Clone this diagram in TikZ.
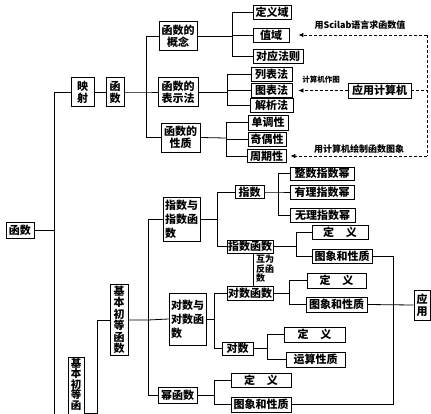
\documentclass[tikz,border=0pt]{standalone}
\usepackage{fontspec}
\setmainfont{Noto Sans CJK SC}
\usetikzlibrary{arrows.meta}
\begin{document}
\begin{tikzpicture}[x=1pt,y=-1pt,
  bx/.style={draw, line width=0.9pt, inner sep=0pt, font=\fontsize{11}{12}\selectfont\bfseries, align=center},
  tall/.style={font=\fontsize{11}{14}\selectfont\bfseries, align=left},
  vert/.style={font=\fontsize{11}{11.5}\selectfont\bfseries},
  ln/.style={line width=0.8pt},
  dsh/.style={line width=0.8pt, dash pattern=on 3pt off 2pt},
  lbl/.style={inner sep=0pt, font=\fontsize{9}{9}\selectfont\bfseries},
  tip/.style={-{Latex[length=5pt,width=4.5pt]}}]
\useasboundingbox (0,0) rectangle (431,413);
\clip (0,0) rectangle (431,413);
\fill[white] (0,0) rectangle (431,413);
% nodes
\node[bx, minimum width=28, minimum height=16] (hanshu) at (20,230) {函数};
\node[bx, minimum width=23, minimum height=29] (yingshe) at (82.5,92) {映\\射};
\node[bx, minimum width=18, minimum height=29] (hs2) at (115,92) {函\\数};
\node[bx, minimum width=38, minimum height=29] (concept) at (178,36) {函数的\\概念};
\node[bx, minimum width=40, minimum height=29] (biaoshi) at (178,92) {函数的\\表示法};
\node[bx, minimum width=39, minimum height=29] (xingzhi) at (180.5,137.5) {函数的\\性质};
\node[bx, minimum width=38, minimum height=14] (dingyiyu) at (272,12) {定义域};
\node[bx, minimum width=36, minimum height=14] (zhiyu) at (271,35) {值域};
\node[bx, minimum width=50, minimum height=14] (duiying) at (278,56) {对应法则};
\node[bx, minimum width=41, minimum height=14] (liebiao) at (271.5,74.5) {列表法};
\node[bx, minimum width=41, minimum height=14] (tubiao) at (271.5,90.5) {图表法};
\node[bx, minimum width=43, minimum height=14] (jiexi) at (271.5,105.5) {解析法};
\node[bx, minimum width=40, minimum height=15] (dandiao) at (268,122.5) {单调性};
\node[bx, minimum width=38, minimum height=14] (jiou) at (267,139.5) {奇偶性};
\node[bx, minimum width=39, minimum height=13] (zhouqi) at (266.5,156) {周期性};
\node[bx, minimum width=63, minimum height=15] (yyjsj) at (379.5,90.5) {应用计算机};
\node[bx, tall, minimum width=37, minimum height=44] (zsyzshs) at (181.5,219) {指数与\\指数函\\数};
\node[bx, minimum width=29, minimum height=13] (zhishu) at (249.5,192) {指数};
\node[bx, minimum width=46, minimum height=13] (zhishuhs) at (250,246.5) {指数函数};
\node[bx, minimum width=64, minimum height=13] (zhengshu) at (322,173.5) {整数指数幂};
\node[bx, minimum width=64, minimum height=14] (youli) at (322,192) {有理指数幂};
\node[bx, minimum width=65, minimum height=14] (wuli) at (322.5,215) {无理指数幂};
\node[bx, minimum width=56, minimum height=14] (dingyi1) at (340,232) {定\hspace{12pt}义};
\node[bx, minimum width=60, minimum height=14] (txxz1) at (342,256) {图象和性质};
\node[bx, minimum width=46, minimum height=14] (duishuhs) at (250,293) {对数函数};
\node[bx, minimum width=59, minimum height=15] (dingyi2) at (336.5,280.5) {定\hspace{12pt}义};
\node[bx, minimum width=61, minimum height=15] (txxz2) at (336.5,304.5) {图象和性质};
\node[bx, minimum width=16, minimum height=30] (yingyong) at (422,305) {应\\用};
\node[bx, tall, minimum width=37, minimum height=52] (dsydshs) at (187.5,319) {对数与\\对数函\\数};
\node[bx, minimum width=31, minimum height=13] (duishu) at (237.5,348.5) {对数};
\node[bx, minimum width=61, minimum height=15] (dingyi3) at (314.5,334.5) {定\hspace{12pt}义};
\node[bx, minimum width=59, minimum height=15] (yunsuan) at (315.5,359.5) {运算性质};
\node[bx, vert, minimum width=18, minimum height=71] (jbcd) at (119,320) {基\\本\\初\\等\\函\\数};
\node[bx, minimum width=39, minimum height=16] (mihs) at (177.5,395) {幂函数};
\node[bx, minimum width=60, minimum height=14] (dingyi4) at (261,380) {定\hspace{12pt}义};
\node[bx, minimum width=60, minimum height=15] (txxz3) at (261,404.5) {图象和性质};
\node[draw, line width=0.9pt, inner sep=0pt, minimum width=16, minimum height=80, anchor=north] (jbcd2) at (76,357) {};
\node[inner sep=0pt, anchor=north, align=center, font=\fontsize{10.5}{10.6}\selectfont\bfseries] (jbcd2t) at ([yshift=-1pt]jbcd2.north) {基\\本\\初\\等\\函};
% labels
\node[lbl] (l1) at (360,25) {用Scilab语言求函数值};
\node[lbl, font=\fontsize{7.5}{8}\selectfont\bfseries] (l2) at (321,80) {计算机作图};
\node[lbl] (l3) at (359,149) {用计算机绘制函数图象};
\node[lbl, font=\fontsize{9}{9.5}\selectfont\bfseries, align=left, anchor=north west] (l4) at (256,255) {互为\\反函\\数};
% coordinates
\coordinate (tr) at (54,92);
\coordinate (trb) at (54,420);
\coordinate (t1) at (146,92);
\coordinate (b1) at (232,36);
\coordinate (b2) at (227,90.5);
\coordinate (b3) at (226,138);
\coordinate (t2) at (148,320);
\coordinate (t3) at (97,320);
\coordinate (b4) at (217,219);
\coordinate (b5) at (278,192);
\coordinate (b6) at (296,246.5);
\coordinate (b7) at (289,293);
\coordinate (b8) at (214,319);
\coordinate (b9) at (267,348.5);
\coordinate (b10) at (214,395);
\coordinate (r1) at (393,256);
\coordinate (dt) at (427,35);
\coordinate (db) at (427,156);
% connectors
\draw[ln] (yingshe.west) -- (tr) -- (trb);
\draw[ln] (hanshu.east) -- (hanshu.east -| tr);
\draw[ln] (yingshe.east) -- (hs2.west);
\draw[ln] (hs2.east) -- (t1) -- (biaoshi.west);
\draw[ln] (t1) |- (concept.west);
\draw[ln] (t1) |- (xingzhi.west);
\draw[ln] (concept.east) -- (b1);
\draw[ln] (b1) |- (dingyiyu.west);
\draw[ln] (b1) |- (zhiyu.west);
\draw[ln] (b1) |- (duiying.west);
\draw[ln] (biaoshi.east) -- (biaoshi.east -| b2);
\draw[ln] (b2) |- (liebiao.west);
\draw[ln] (b2) |- (tubiao.west);
\draw[ln] (b2) |- (jiexi.west);
\draw[ln] (xingzhi.east) -- (b3);
\draw[ln] (b3) |- (dandiao.west);
\draw[ln] (b3) |- (jiou.west);
\draw[ln] (b3) |- (zhouqi.west);
\draw[ln] (jbcd.east) -- (t2) -- (dsydshs.west);
\draw[ln] (t2) |- (zsyzshs.west);
\draw[ln] (t2) |- (mihs.west);
\draw[ln] (jbcd.west) -- (t3) |- ([yshift=-16pt]jbcd2.east);
\draw[ln] (zsyzshs.east) -- (b4);
\draw[ln] (b4) |- (zhishu.west);
\draw[ln] (b4) |- (zhishuhs.west);
\draw[ln] (zhishu.east) -- (b5) -- (youli.west);
\draw[ln] (b5) |- (zhengshu.west);
\draw[ln] (b5) |- (wuli.west);
\draw[ln] (zhishuhs.east) -- (b6);
\draw[ln] (b6) |- (dingyi1.west);
\draw[ln] (b6) |- (txxz1.west);
\draw[ln] ([xshift=3pt]zhishuhs.south) -- ([xshift=3pt]duishuhs.north);
\draw[ln] (duishuhs.east) -- (b7);
\draw[ln] (b7) |- (dingyi2.west);
\draw[ln] (b7) |- (txxz2.west);
\draw[ln] (dsydshs.east) -- (b8);
\draw[ln] (b8) |- (duishuhs.west);
\draw[ln] (b8) |- (duishu.west);
\draw[ln] (duishu.east) -- (b9);
\draw[ln] (b9) |- (dingyi3.west);
\draw[ln] (b9) |- (yunsuan.west);
\draw[ln] (mihs.east) -- (b10);
\draw[ln] (b10) |- (dingyi4.west);
\draw[ln] (b10) |- (txxz3.west);
\draw[ln] (txxz1.east) -- (r1) |- (txxz3.east);
\draw[ln] (txxz2.east) -- (yingyong.west);
% dashed
\draw[dsh] (dt) -- (db);
\draw[dsh, tip] (dt) -- ([xshift=9pt]zhiyu.east);
\draw[dsh, tip] (yyjsj.west) -- ([xshift=6pt]tubiao.east);
\draw[dsh] (yyjsj.east) -- (yyjsj.east -| dt);
\draw[dsh, tip] (db) -- ([xshift=4pt]zhouqi.east);
\end{tikzpicture}
\end{document}
